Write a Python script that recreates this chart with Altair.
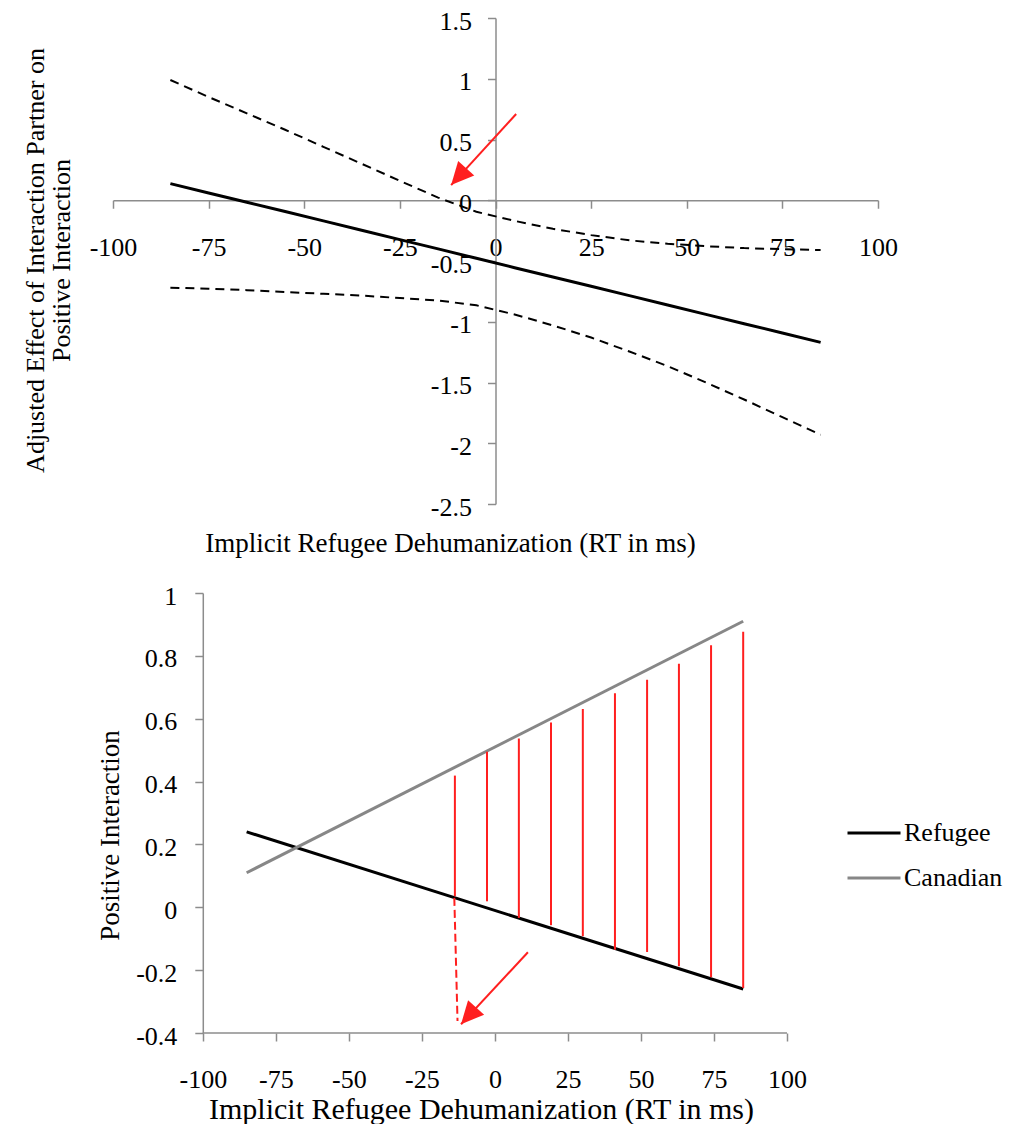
import altair as alt
import pandas as pd

FONT = "Liberation Serif"
GRAY_AX = "#8c8c8c"
RED = "#ff1f1f"

# ---------------- Top panel data ----------------
top_x = [-85, -75, -65, -55, -45, -35, -25, -15, -5, 5, 15, 25, 35, 45, 55, 65, 75, 85]
top_effect = [0.137, 0.06, -0.016, -0.093, -0.17, -0.247, -0.324, -0.40, -0.478,
              -0.555, -0.632, -0.708, -0.785, -0.862, -0.939, -1.016, -1.093, -1.17]
top_upper = [0.99, 0.85, 0.715, 0.58, 0.44, 0.30, 0.16, 0.022, -0.095,
             -0.17, -0.235, -0.287, -0.33, -0.358, -0.378, -0.394, -0.403, -0.41]
top_lower = [-0.72, -0.728, -0.74, -0.755, -0.77, -0.785, -0.805, -0.825, -0.865,
             -0.94, -1.03, -1.13, -1.245, -1.365, -1.50, -1.64, -1.785, -1.93]
top_x_ticks = [-100, -75, -50, -25, 0, 25, 50, 75, 100]
top_y_ticks = [-2.5, -2.0, -1.5, -1.0, -0.5, 0.0, 0.5, 1.0, 1.5]
top_arrow_x = [5.4, -11.6]
top_arrow_y = [0.71, 0.125]

# ---------------- Bottom panel data ----------------
series_names = ["Refugee", "Canadian"]
line_x = [-85, 85]
refugee_y = [0.24, -0.26]
canadian_y = [0.11, 0.91]
red_x = [-13.7, -2.7, 8.2, 19.2, 30.1, 41.1, 52.1, 63.0, 74.0, 85.0]
red_top = [0.419, 0.495, 0.537, 0.588, 0.631, 0.681, 0.724, 0.775, 0.834, 0.877]
red_bottom = [0.035, 0.019, -0.034, -0.057, -0.092, -0.135, -0.142, -0.188, -0.223, -0.257]
jn_dash_x = [-13.9, -12.8]
jn_dash_y = [0.03, -0.362]
bot_arrow_x = [11.3, -11.6]
bot_arrow_y = [-0.143, -0.372]
bot_x_ticks = [-100, -75, -50, -25, 0, 25, 50, 75, 100]
bot_y_ticks = [-0.4, -0.2, 0.0, 0.2, 0.4, 0.6, 0.8, 1.0]

TITLE_X = "Implicit Refugee Dehumanization (RT in ms)"
ARROW_HEAD = "M0,0L-0.6,1.25L0.6,1.25Z"


def make_axis(**kw):
    base = dict(domainColor=GRAY_AX, domainWidth=1.5, tickColor=GRAY_AX, tickWidth=1.5,
                tickSize=8, labelFont=FONT, labelFontSize=26, labelColor="black",
                labelFlush=False, labelOverlap=False, labelExpr="'' + datum.value",
                titleFont=FONT, titleFontSize=26, titleFontWeight="normal",
                titleColor="black", grid=False)
    base.update(kw)
    return alt.Axis(**base)


# ---------------- Top chart ----------------
TW, TH = 765, 486
top_df = pd.DataFrame({"x": top_x, "effect": top_effect, "upper": top_upper, "lower": top_lower})
xs_top = alt.Scale(domain=[top_x_ticks[0], top_x_ticks[-1]], nice=False, zero=False)
ys_top = alt.Scale(domain=[top_y_ticks[0], top_y_ticks[-1]], nice=False, zero=False)
ax_top_x = make_axis(values=top_x_ticks, offset=-303.75, labelPadding=26,
                     title=TITLE_X, titleFontSize=27, titleX=337, titleY=343,
                     titleBaseline="middle", titleAlign="center")
ax_top_y = make_axis(values=top_y_ticks, offset=-382.5, labelPadding=16, labelOffset=3,
                     title=["Adjusted Effect of Interaction Partner on", "Positive Interaction"],
                     titleX=-460.5, titleY=242, titleAngle=270, titleLineHeight=26,
                     titleBaseline="middle", titleAlign="center")


def tx(field):
    return alt.X(field, type="quantitative", scale=xs_top, axis=ax_top_x)


def ty(field):
    return alt.Y(field, type="quantitative", scale=ys_top, axis=ax_top_y)


top_base = alt.Chart(top_df)
top_mid = top_base.mark_line(color="black", strokeWidth=3).encode(x=tx("x"), y=ty("effect"))
top_up = top_base.mark_line(color="black", strokeWidth=2, strokeDash=[9, 6]).encode(
    x=tx("x"), y=ty("upper"))
top_lo = top_base.mark_line(color="black", strokeWidth=2, strokeDash=[9, 6]).encode(
    x=tx("x"), y=ty("lower"))

tarrow = pd.DataFrame({"x": [top_arrow_x[0]], "y": [top_arrow_y[0]],
                       "x2": [top_arrow_x[1]], "y2": [top_arrow_y[1]]})
top_arrow_line = alt.Chart(tarrow).mark_rule(color=RED, strokeWidth=2).encode(
    x=tx("x"), y=ty("y"), x2="x2:Q", y2="y2:Q")
top_arrow_head = alt.Chart(tarrow).mark_point(shape=ARROW_HEAD, filled=True, color=RED,
                                              opacity=1, size=1300, angle=222,
                                              strokeWidth=0).encode(x=tx("x2"), y=ty("y2"))

top_chart = alt.layer(top_mid, top_up, top_lo, top_arrow_line, top_arrow_head).properties(
    width=TW, height=TH)

# ---------------- Bottom chart ----------------
BW, BH = 674, 440
X_LEFT_EXT = -130.75   # scale starts left of -100 so both panels share the same left edge
xs_bot = alt.Scale(domain=[X_LEFT_EXT, bot_x_ticks[-1]], nice=False, zero=False)
ys_bot = alt.Scale(domain=[bot_y_ticks[0], bot_y_ticks[-1]], nice=False, zero=False)
ax_bot_x = make_axis(values=bot_x_ticks, domain=False, labelPadding=25,
                     title=TITLE_X, titleFontSize=30, titleX=368, titleY=76,
                     titleBaseline="middle", titleAlign="center")
ax_bot_y = make_axis(values=bot_y_ticks, offset=-89.8, labelPadding=18, labelOffset=3,
                     title="Positive Interaction", titleFontSize=27, titleX=-92, titleY=242,
                     titleAngle=270, titleBaseline="middle", titleAlign="center")


def bx(field):
    return alt.X(field, type="quantitative", scale=xs_bot, axis=ax_bot_x)


def by(field):
    return alt.Y(field, type="quantitative", scale=ys_bot, axis=ax_bot_y)


lines_df = pd.DataFrame({
    "x": line_x + line_x,
    "y": refugee_y + canadian_y,
    "series": [series_names[0]] * 2 + [series_names[1]] * 2,
})
bot_lines = alt.Chart(lines_df).mark_line(strokeWidth=3).encode(
    x=bx("x"), y=by("y"),
    color=alt.Color("series:N",
                    scale=alt.Scale(domain=series_names, range=["#000000", "#878787"]),
                    sort=series_names,
                    legend=alt.Legend(title=None, orient="none", legendX=733, legendY=787,
                                      symbolType="stroke", symbolSize=2809,
                                      symbolStrokeWidth=3, labelFont=FONT, labelFontSize=26,
                                      labelColor="black", labelOffset=2, rowPadding=4,
                                      padding=0)),
    detail="series:N",
)

axis_line_df = pd.DataFrame({"x": [bot_x_ticks[0]], "x2": [bot_x_ticks[-1]],
                             "y": [bot_y_ticks[0]]})
bot_axis_line = alt.Chart(axis_line_df).mark_rule(color=GRAY_AX, strokeWidth=1.5).encode(
    x=bx("x"), x2="x2:Q", y=by("y"))

red_df = pd.DataFrame({"x": red_x, "top": red_top, "bottom": red_bottom})
bot_red = alt.Chart(red_df).mark_rule(color=RED, strokeWidth=2).encode(
    x=bx("x"), y=by("top"), y2="bottom:Q")

jn_df = pd.DataFrame({"x": [jn_dash_x[0]], "x2": [jn_dash_x[1]],
                      "y": [jn_dash_y[0]], "y2": [jn_dash_y[1]]})
bot_jn = alt.Chart(jn_df).mark_rule(color=RED, strokeWidth=2, strokeDash=[8, 4]).encode(
    x=bx("x"), x2="x2:Q", y=by("y"), y2="y2:Q")

barrow = pd.DataFrame({"x": [bot_arrow_x[0]], "y": [bot_arrow_y[0]],
                       "x2": [bot_arrow_x[1]], "y2": [bot_arrow_y[1]]})
bot_arrow_line = alt.Chart(barrow).mark_rule(color=RED, strokeWidth=2).encode(
    x=bx("x"), y=by("y"), x2="x2:Q", y2="y2:Q")
bot_arrow_head = alt.Chart(barrow).mark_point(shape=ARROW_HEAD, filled=True, color=RED,
                                              opacity=1, size=1300, angle=222,
                                              strokeWidth=0).encode(x=bx("x2"), y=by("y2"))

bottom_chart = alt.layer(bot_lines, bot_red, bot_jn, bot_axis_line,
                         bot_arrow_line, bot_arrow_head).properties(width=BW, height=BH)

chart = alt.vconcat(top_chart, bottom_chart, spacing=26).properties(
    padding={"left": 14, "top": 0, "right": 0, "bottom": 0}
).configure_view(stroke=None)

chart.save("out.html", embed_options={"renderer": "svg", "actions": False})
